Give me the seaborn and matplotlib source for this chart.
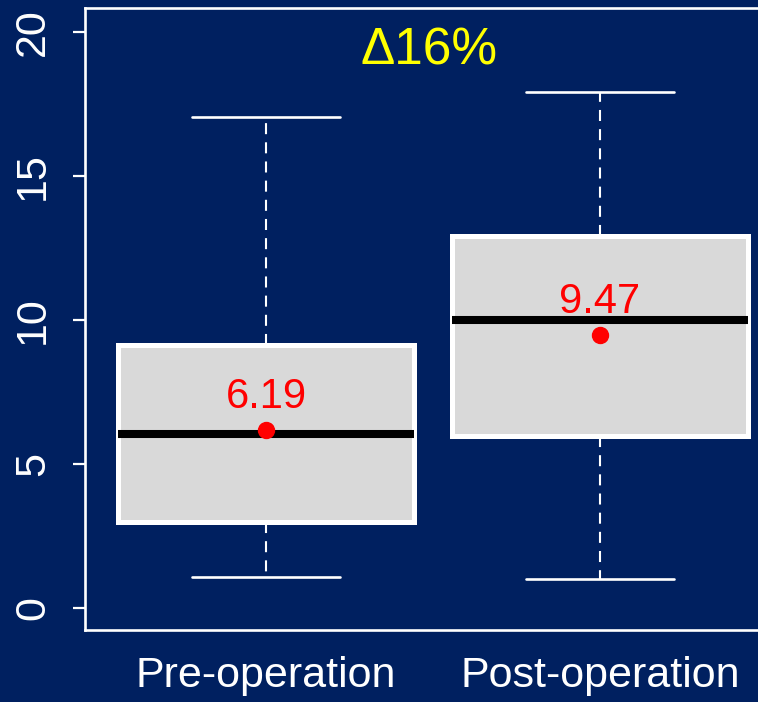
import matplotlib
matplotlib.use("Agg")
import matplotlib.pyplot as plt
import seaborn as sns
import pandas as pd

# Five-number summaries per group (whisker ends, quartiles, median)
groups = ["Pre-operation", "Post-operation"]
whisker_low = [1.08, 1.0]
q1 = [3.0, 5.97]
median = [6.05, 10.0]
q3 = [9.13, 12.92]
whisker_high = [17.05, 17.9]
means = [6.19, 9.47]
mean_labels = ["6.19", "9.47"]
change_label = "\u039416%"
yticks = [0, 5, 10, 15, 20]

NAVY = "#002060"

# Long-form table whose quantiles reproduce the summaries above
rows = []
for g, a, b, c, d, e in zip(groups, whisker_low, q1, median, q3, whisker_high):
    for v in (a, b, c, d, e):
        rows.append({"group": g, "value": v})
df = pd.DataFrame(rows)

sns.set_theme(style="white")
plt.rcParams["font.family"] = ["Liberation Sans", "DejaVu Sans"]

fig = plt.figure(figsize=(7.58, 7.02), dpi=100, facecolor=NAVY)
ax = fig.add_axes([0.1121, 0.1026, 0.918, 0.886])
ax.set_facecolor(NAVY)

sns.boxplot(
    data=df, x="group", y="value", order=groups, ax=ax,
    whis=(0, 100), width=0.886, color="#d9d9d9", saturation=1,
    linecolor="white", linewidth=3.6, showfliers=False,
    whiskerprops={"linestyle": (0, (5.3, 3.9)), "linewidth": 1.5},
    capprops={"linewidth": 1.9},
    medianprops={"color": "black", "linewidth": 5.8},
)

# Mean markers and their labels
for i, (m, lab) in enumerate(zip(means, mean_labels)):
    ax.plot(i, m, "o", color="red", markersize=11.5, zorder=5)
    ax.annotate(lab, (i, m), xytext=(0, 16), textcoords="offset points",
                ha="center", va="baseline", color="red", fontsize=30,
                zorder=6)

ax.text(0.49, 19.34, change_label, ha="center", va="center",
        color="yellow", fontsize=37)

ax.set_xlim(-0.542, 1.542)
ax.set_ylim(-0.76, 20.83)
ax.set_yticks(yticks)
ax.set_yticklabels([str(t) for t in yticks], rotation=90, va="center",
                   fontsize=31, color="white")
ax.tick_params(axis="y", left=True, length=9, width=1.6, color="white",
               pad=14)
ax.tick_params(axis="x", bottom=False, labelsize=31, labelcolor="white",
               pad=13)
ax.set_xlabel("")
ax.set_ylabel("")
for side in ("left", "top", "bottom", "right"):
    ax.spines[side].set_color("white")
    ax.spines[side].set_linewidth(1.9)

fig.savefig("out.png", dpi=100, facecolor=NAVY)
